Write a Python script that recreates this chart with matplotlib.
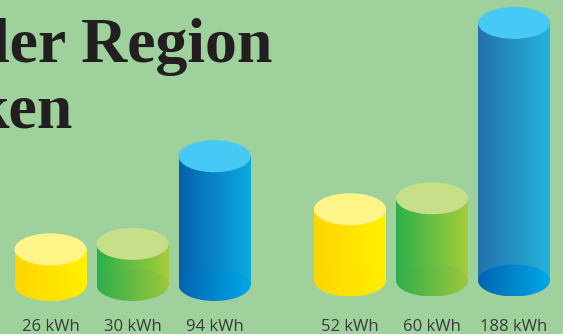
import numpy as np
import matplotlib
matplotlib.use("Agg")
import matplotlib.pyplot as plt
from matplotlib.colors import LinearSegmentedColormap
from matplotlib.patches import Rectangle, Ellipse

# ---- data ----
title_line1 = "der Region"
title_line2 = "ken"
series_names = ["Gelb", "Grün", "Blau"]
values_left = [26, 30, 94]
values_right = [52, 60, 188]
unit = "kWh"

# ---- style ----
W, H, DPI = 563, 334, 100
bg = "#9ed19b"
px_per_kwh = 1.37
cyl_w = 72          # px
ell_h = 32          # px
spacing = 82        # px between cylinder centres
group_start = [50.5, 350.0]
group_base = [285.0, 280.5]  # px from top (centre of bottom ellipse)

body_cols = {
    0: [("#ffd400", "#fff200"), ("#2bb04a", "#a6cd3a"), ("#0660ad", "#0daae1")],
    1: [("#ffd400", "#fff200"), ("#2bb04a", "#a6cd3a"), ("#2272a9", "#25b3dd")],
}
bottom_cols = [("#ffd600", "#ffee00"), ("#2eae4a", "#9cc83c"), ("#0064b3", "#00a8e7")]
top_cols = ["#fff487", "#c7df89", "#46c9f5"]
label_col = "#3a3a3a"
title_col = "#231f20"

fig = plt.figure(figsize=(W / DPI, H / DPI), dpi=DPI)
fig.patch.set_facecolor(bg)

grad = np.linspace(0, 1, 256).reshape(1, -1)

for g, vals in enumerate([values_left, values_right]):
    ax = fig.add_axes([0, 0, 1, 1])
    ax.set_facecolor("none")
    ax.axis("off")
    base = group_base[g]
    ylo = -(H - base) / px_per_kwh
    yhi = base / px_per_kwh
    eh = ell_h / px_per_kwh
    for i, v in enumerate(vals):
        xc = group_start[g] + i * spacing
        x0, x1 = xc - cyl_w / 2, xc + cyl_w / 2
        c0, c1 = body_cols[g][i]
        cmap = LinearSegmentedColormap.from_list("b", [c0, c1])
        rect = Rectangle((x0, 0), cyl_w, v, transform=ax.transData)
        im = ax.imshow(grad, cmap=cmap, extent=[x0, x1, 0, v], aspect="auto",
                       interpolation="bilinear", zorder=1)
        im.set_clip_path(rect)
        b0, b1 = bottom_cols[i]
        cmapb = LinearSegmentedColormap.from_list("bb", [b0, b1])
        ell = Ellipse((xc, 0), cyl_w, eh, transform=ax.transData)
        imb = ax.imshow(grad, cmap=cmapb, extent=[x0, x1, -eh / 2, eh / 2],
                        aspect="auto", interpolation="bilinear", zorder=2)
        imb.set_clip_path(ell)
        ax.add_patch(Ellipse((xc, v), cyl_w, eh, facecolor=top_cols[i],
                             edgecolor="none", zorder=3))
        fig.text(xc / W, 3.3 / H, f"{v} {unit}", ha="center", va="baseline",
                 fontsize=12, family="Open Sans", color=label_col)
    ax.set_xlim(0, W)
    ax.set_ylim(ylo, yhi)

tkw = dict(va="baseline", fontsize=46, family="Liberation Serif",
           weight="bold", color=title_col)
fig.text(272 / W, 1 - 62 / H, title_line1, ha="right", **tkw)
fig.text(73 / W, 1 - 128 / H, title_line2, ha="right", **tkw)

fig.savefig("out.png", dpi=DPI, facecolor=bg)
